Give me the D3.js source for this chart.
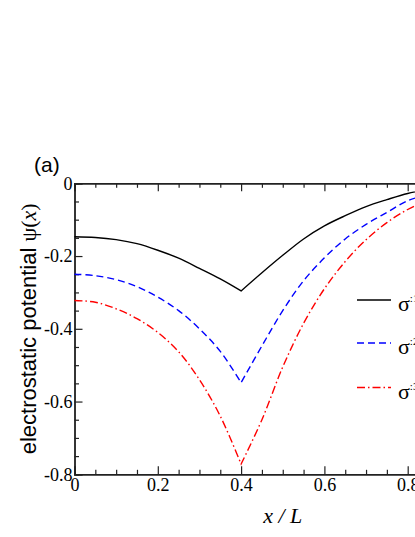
<!DOCTYPE html>
<html>
<head>
<meta charset="utf-8">
<script src="https://cdn.jsdelivr.net/npm/d3@7"></script>
<style>
  body { margin: 0; background: #fff; }
  svg { display: block; }
</style>
</head>
<body>
<svg id="chart" width="415" height="537"></svg>
<script>
// x / L positions
var xVals = [0, 0.05, 0.1, 0.15, 0.2, 0.25, 0.3, 0.35, 0.4, 0.45, 0.5, 0.55, 0.6, 0.65, 0.7, 0.75, 0.8, 0.85];
// psi(x) for the three curves
var psiBlack = [-0.147, -0.149, -0.155, -0.166, -0.184, -0.206, -0.234, -0.263, -0.296, -0.246, -0.198, -0.153, -0.117, -0.089, -0.064, -0.045, -0.028, -0.017];
var psiBlue = [-0.250, -0.254, -0.265, -0.284, -0.313, -0.350, -0.400, -0.462, -0.548, -0.447, -0.350, -0.268, -0.205, -0.153, -0.113, -0.080, -0.048, -0.030];
var psiRed = [-0.322, -0.327, -0.345, -0.372, -0.410, -0.463, -0.540, -0.640, -0.772, -0.650, -0.505, -0.385, -0.290, -0.215, -0.155, -0.108, -0.072, -0.045];
var kinkX = 0.4;

var xMajor = [0, 0.2, 0.4, 0.6, 0.8, 1];
var yMajor = [0, -0.2, -0.4, -0.6, -0.8];
var legendNames = ["1", "2", "3"];

var svg = d3.select("#chart");

var padL = 74.5, padR = 491, padT = 183.3, padB = 474.3;

var xScale = d3.scaleLinear().domain([0, 1]).range([padL, padR]);
var yScale = d3.scaleLinear().domain([-0.8, 0]).range([padB, padT]);

var series = [
  {vals: psiBlack, color: "#000", dash: null},
  {vals: psiBlue, color: "#0000ff", dash: "7,4"},
  {vals: psiRed, color: "#ff0000", dash: "8,3,1.5,3"}
];

// frame + ticks
var minorX = d3.range(0, 1.0001, 0.05).filter(v => Math.abs(v * 5 - Math.round(v * 5)) > 1e-6);
var minorY = d3.range(-0.8, 0.0001, 0.05).filter(v => Math.abs(v * 5 - Math.round(v * 5)) > 1e-6);
var fmt = d => Math.abs(d) < 1e-9 ? "0" : d.toFixed(1);

function styleAxis(g) {
  g.select(".domain").attr("stroke", "#222").attr("stroke-width", 1.4);
  g.selectAll(".tick line").attr("stroke", "#222").attr("stroke-width", 1.2);
  g.selectAll("text").attr("font-family", "'Liberation Serif', 'DejaVu Serif', serif")
    .attr("font-size", "18px").attr("fill", "#000");
}

svg.append("g").attr("transform", "translate(0," + padB + ")")
  .call(d3.axisBottom(xScale).tickValues(xMajor).tickSize(-8).tickPadding(4).tickFormat(fmt))
  .call(styleAxis);
svg.append("g").attr("transform", "translate(0," + padB + ")")
  .call(d3.axisBottom(xScale).tickValues(minorX).tickSize(-4.5).tickFormat(""))
  .call(styleAxis);
svg.append("g").attr("transform", "translate(0," + padT + ")")
  .call(d3.axisTop(xScale).tickValues(xMajor).tickSize(-8).tickFormat(""))
  .call(styleAxis);
svg.append("g").attr("transform", "translate(0," + padT + ")")
  .call(d3.axisTop(xScale).tickValues(minorX).tickSize(-4.5).tickFormat(""))
  .call(styleAxis);
svg.append("g").attr("transform", "translate(" + padL + ",0)")
  .call(d3.axisLeft(yScale).tickValues(yMajor).tickSize(-8).tickPadding(2).tickFormat(fmt))
  .call(styleAxis);
svg.append("g").attr("transform", "translate(" + padL + ",0)")
  .call(d3.axisLeft(yScale).tickValues(minorY).tickSize(-4.5).tickFormat(""))
  .call(styleAxis);

// curves: two smooth pieces joined at the kink, one path so dashes run on
var line = d3.line().x(d => xScale(d[0])).y(d => yScale(d[1])).curve(d3.curveCatmullRom);

series.forEach(function(s) {
  var pts = xVals.map((x, i) => [x, s.vals[i]]);
  var leftPart = pts.filter(p => p[0] <= kinkX + 1e-9);
  var rightPart = pts.filter(p => p[0] >= kinkX - 1e-9);
  var d = line(leftPart) + line(rightPart).replace(/^M/, "L");
  svg.append("path")
    .attr("d", d)
    .attr("fill", "none")
    .attr("stroke", s.color)
    .attr("stroke-width", 1.4)
    .attr("stroke-dasharray", s.dash);
});

// legend
var legY = [300, 343, 387.5];
series.forEach(function(s, i) {
  svg.append("line")
    .attr("x1", 357).attr("x2", 391)
    .attr("y1", legY[i]).attr("y2", legY[i])
    .attr("stroke", s.color).attr("stroke-width", 1.4)
    .attr("stroke-dasharray", s.dash);
  var t = svg.append("text")
    .attr("x", 398).attr("y", legY[i] + 11)
    .attr("font-family", "'Liberation Serif', 'DejaVu Serif', serif")
    .attr("font-size", "22px").attr("fill", "#000")
    .text("σ");
  t.append("tspan").attr("dy", -9).attr("font-size", "11px").text(":" + legendNames[i]);
});

// labels
svg.append("text")
  .attr("x", 34).attr("y", 172)
  .attr("font-family", "'Liberation Sans', Arial, sans-serif")
  .attr("font-size", "21px").attr("fill", "#000")
  .text("(a)");

var yl = svg.append("text")
  .attr("transform", "translate(36," + yScale(-0.4) + ") rotate(-90)")
  .attr("text-anchor", "middle")
  .attr("font-family", "'Liberation Sans', Arial, sans-serif")
  .attr("font-size", "22px").attr("fill", "#000");
yl.append("tspan").text("electrostatic potential  ");
yl.append("tspan").attr("font-family", "'Liberation Serif', serif").text("ψ(");
yl.append("tspan").attr("font-family", "'Liberation Serif', serif").attr("font-style", "italic").text("x");
yl.append("tspan").attr("font-family", "'Liberation Serif', serif").text(")");

svg.append("text")
  .attr("x", xScale(0.5)).attr("y", 523)
  .attr("text-anchor", "middle")
  .attr("font-family", "'Liberation Serif', serif")
  .attr("font-size", "22px").attr("font-style", "italic").attr("fill", "#000")
  .text("x / L");
</script>
</body>
</html>
